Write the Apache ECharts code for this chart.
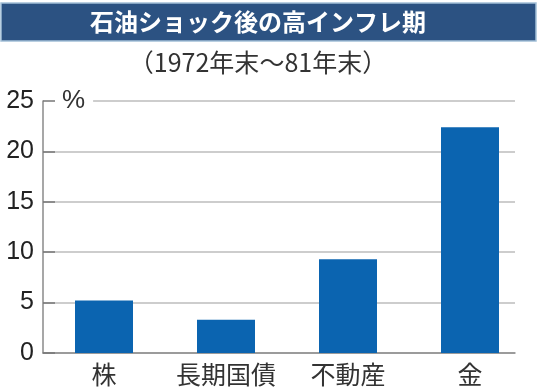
<!DOCTYPE html>
<html>
<head>
<meta charset="utf-8">
<script src="https://cdn.jsdelivr.net/npm/echarts@6/dist/echarts.min.js"></script>
<style>html,body{margin:0;padding:0;background:#fff;}#c{width:542px;height:391px;}</style>
</head>
<body>
<div id="c"></div>
<script>
const title = '石油ショック後の高インフレ期';
const subtitle = '（1972年末～81年末）';
const categories = ['株', '長期国債', '不動産', '金'];
const values = [5.2, 3.3, 9.3, 22.4];
const yTicks = [0, 5, 10, 15, 20, 25];

const numFont = '"Liberation Sans Narrow", "Liberation Sans", Arial, sans-serif';
const jpFont = '"Noto Sans CJK JP", sans-serif';

const chart = echarts.init(document.getElementById('c'));
chart.setOption({
  animation: false,
  backgroundColor: '#fff',
  graphic: [
    { type: 'rect', shape: { x: 1, y: 3, width: 535, height: 38 }, style: { fill: '#2c5282', stroke: '#a3c0d8', lineWidth: 1.5 }, z: 1 },
    { type: 'text', x: 258, y: 22, style: { text: title, fill: '#fff', font: 'bold 24px ' + jpFont, align: 'center', verticalAlign: 'middle' }, z: 2 },
    { type: 'text', x: 258, y: 62, style: { text: subtitle, fill: '#333', font: '25px ' + jpFont, align: 'center', verticalAlign: 'middle' }, z: 2 }
  ],
  grid: [
    { left: 43, top: 101, width: 488, height: 252 },
    { left: 43, top: 101, width: 472, height: 252 }
  ],
  xAxis: [
    { type: 'category', gridIndex: 0, data: categories, axisLine: { show: false }, axisTick: { show: false },
      axisLabel: { interval: 0, hideOverlap: false, margin: 9, color: '#333', fontSize: 25, fontFamily: jpFont } },
    { type: 'category', gridIndex: 1, data: categories, axisLine: { show: true, lineStyle: { color: '#8a8a8a', width: 1.5 } },
      axisTick: { show: false }, axisLabel: { show: false }, z: 1 }
  ],
  yAxis: [
    { type: 'value', gridIndex: 0, min: yTicks[0], max: yTicks[yTicks.length - 1], interval: 5,
      name: '%', nameLocation: 'end', nameGap: 0,
      nameTextStyle: { align: 'left', verticalAlign: 'middle', fontSize: 26, color: '#333', fontFamily: numFont,
        backgroundColor: '#fff', padding: [2, 8, 2, 19] },
      axisLine: { show: true, lineStyle: { color: '#8a8a8a', width: 1.5 } },
      axisTick: { show: true, inside: true, length: 12, lineStyle: { color: '#777', width: 1.5 } },
      axisLabel: { margin: 9, color: '#222', fontSize: 25, fontFamily: numFont },
      splitLine: { show: false }, z: 3 },
    { type: 'value', gridIndex: 1, min: yTicks[0], max: yTicks[yTicks.length - 1], interval: 5,
      axisLine: { show: false }, axisTick: { show: false }, axisLabel: { show: false },
      splitLine: { show: true, lineStyle: { color: '#bdbdbd', width: 1.5 } }, z: 0 }
  ],
  series: [
    { type: 'bar', xAxisIndex: 0, yAxisIndex: 0, data: values, barWidth: 58,
      itemStyle: { color: '#0b64b0' }, z: 2 }
  ]
});
</script>
</body>
</html>
